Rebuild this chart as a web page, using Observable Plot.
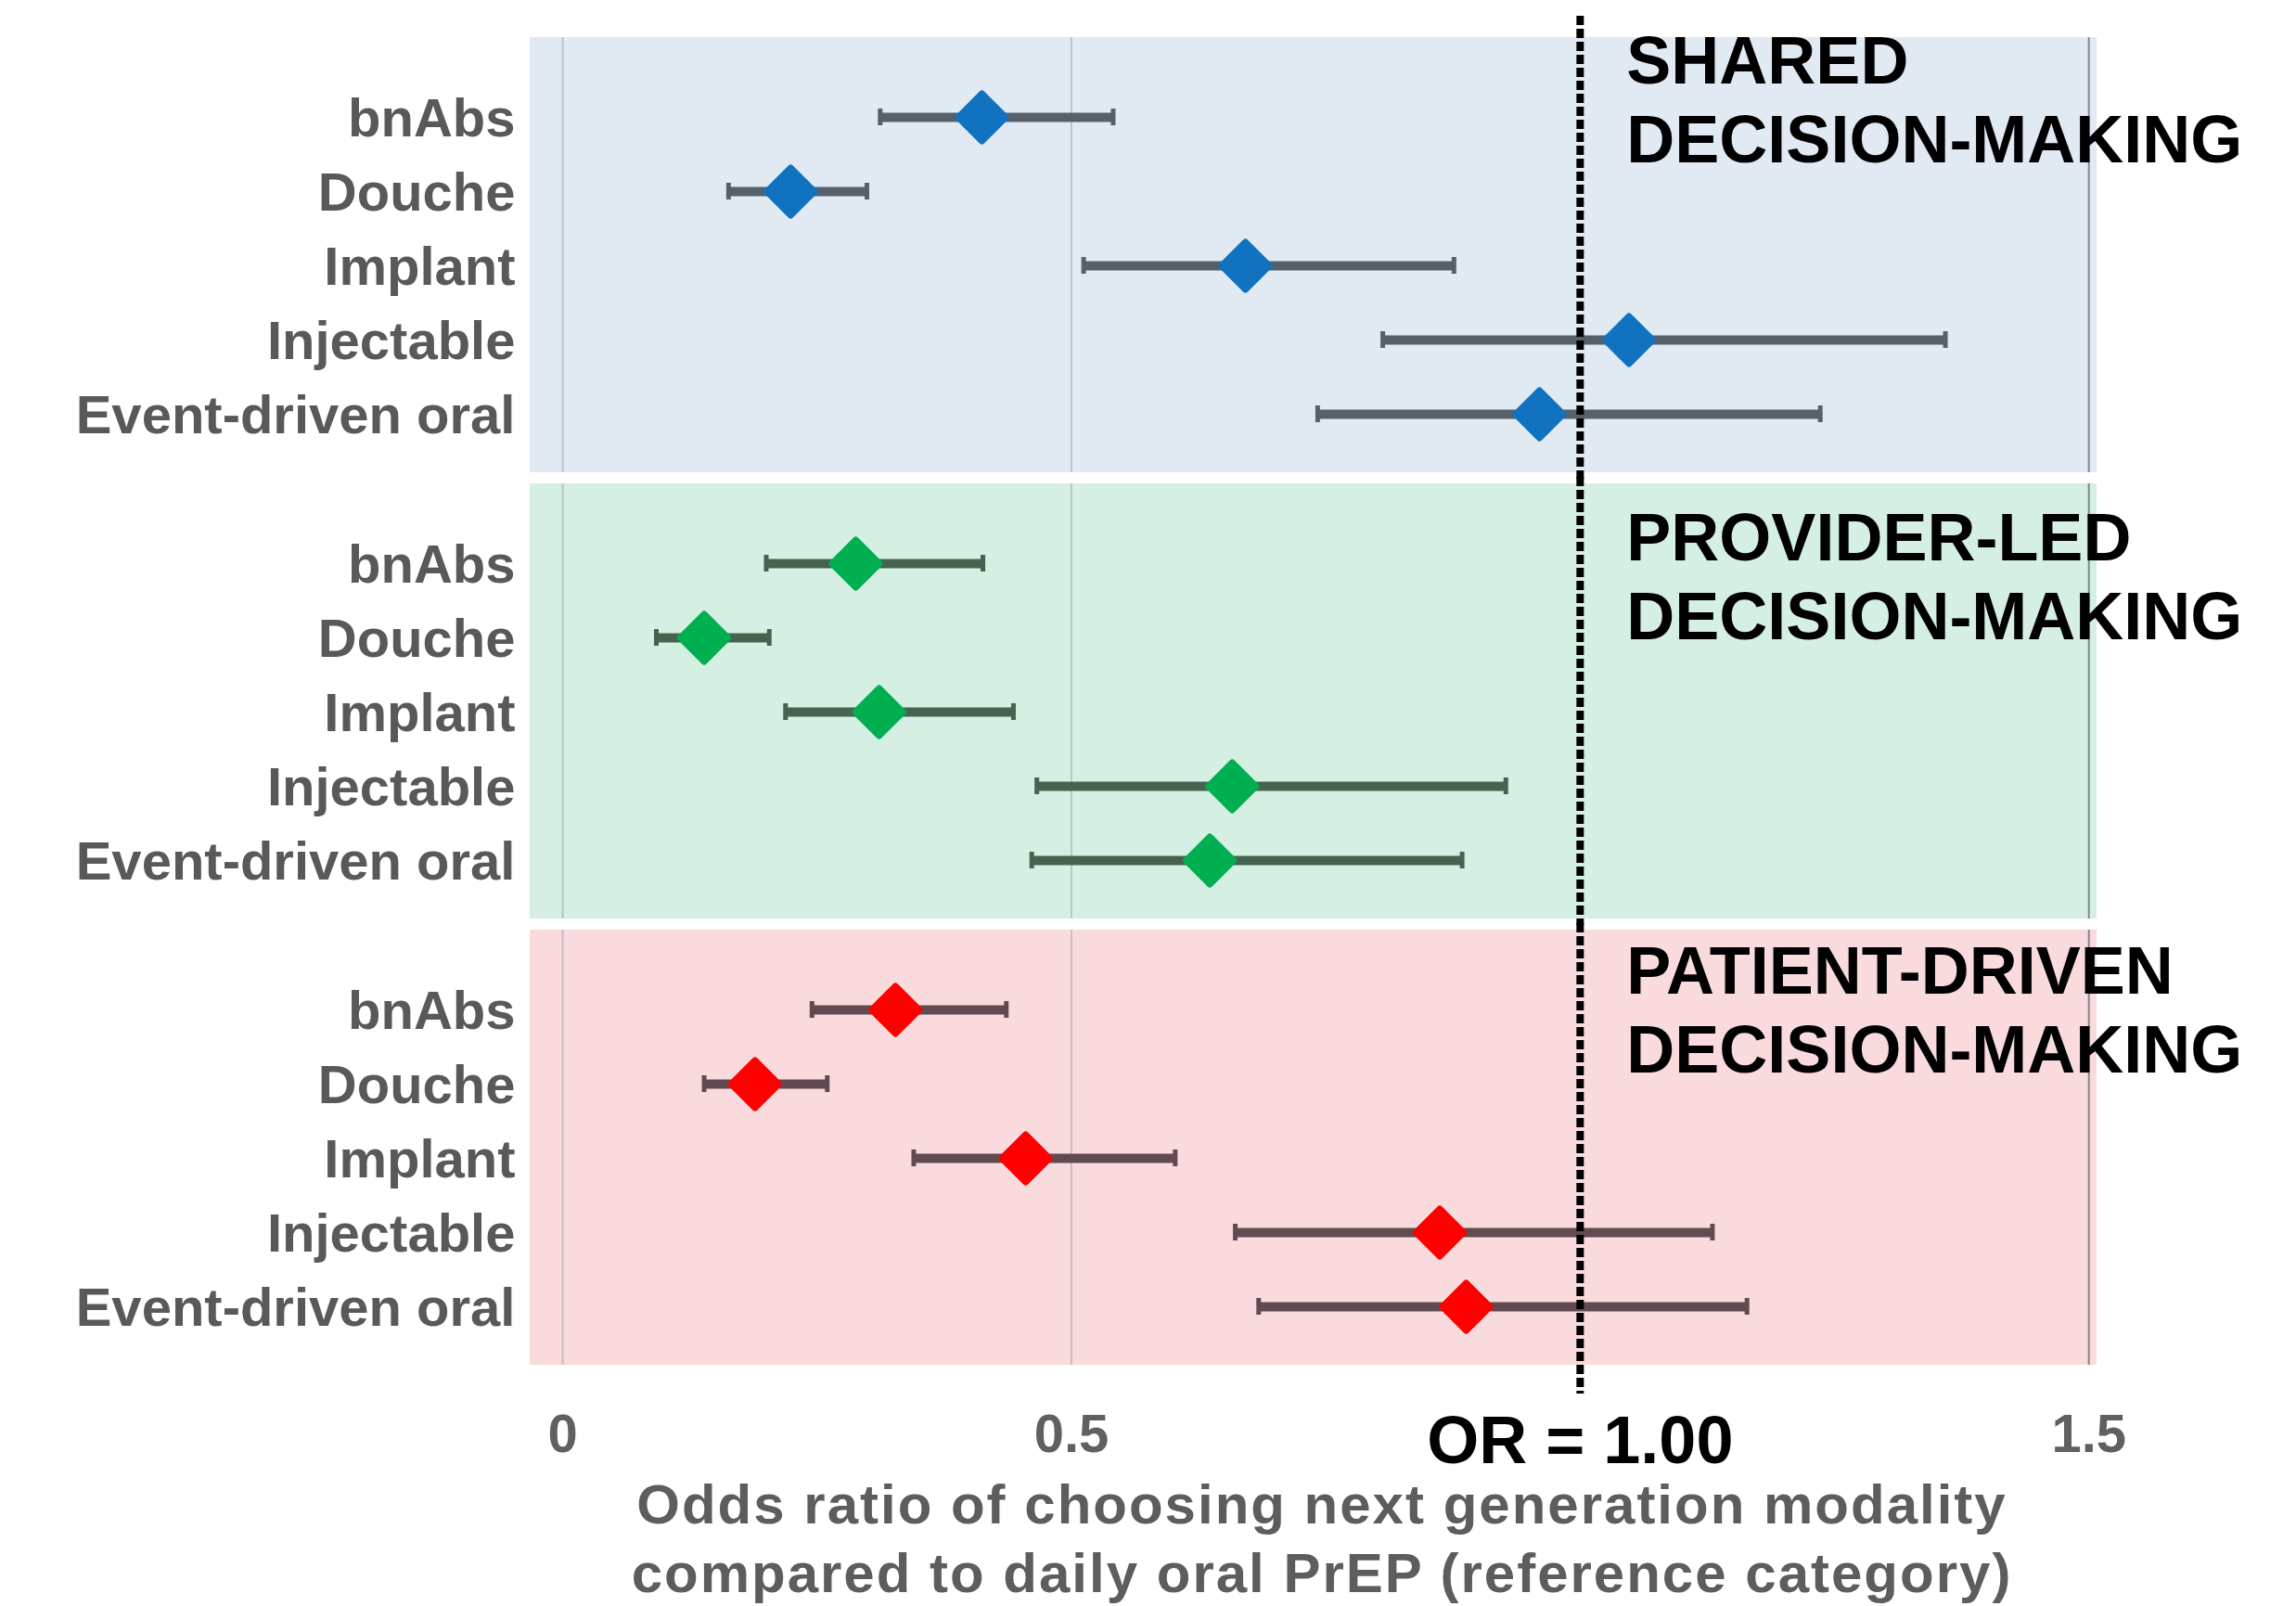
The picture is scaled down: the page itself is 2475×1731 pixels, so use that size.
<!DOCTYPE html>
<html>
<head>
<meta charset="utf-8">
<script src="https://cdn.jsdelivr.net/npm/d3@7"></script>
<script src="https://cdn.jsdelivr.net/npm/@observablehq/plot@0.6"></script>
<style>
  body { margin: 0; background: #ffffff; font-family: "Liberation Sans", Arial, sans-serif; }
  #chart svg { display: block; }
  .xtitle {
    width: 2475px; box-sizing: border-box; padding-left: 375px;
    text-align: center; font-weight: bold; font-size: 60px; line-height: 74px;
    letter-spacing: 2px; color: #5d5d5d;
  }
</style>
</head>
<body>
<div id="chart"></div>
<div class="xtitle">Odds ratio of choosing next generation modality<br>compared to daily oral PrEP (reference category)</div>
<script>
// ---- data ----
const groups = ["Shared", "Provider-led", "Patient-driven"];
const groupLabels = ["SHARED\nDECISION-MAKING", "PROVIDER-LED\nDECISION-MAKING", "PATIENT-DRIVEN\nDECISION-MAKING"];
const modalities = ["bnAbs", "Douche", "Implant", "Injectable", "Event-driven oral"];

const orShared   = [0.412, 0.224, 0.671, 1.048, 0.960];
const loShared   = [0.312, 0.163, 0.512, 0.806, 0.742];
const hiShared   = [0.541, 0.299, 0.876, 1.359, 1.236];

const orProvider = [0.288, 0.139, 0.311, 0.658, 0.636];
const loProvider = [0.200, 0.092, 0.219, 0.466, 0.461];
const hiProvider = [0.413, 0.203, 0.443, 0.927, 0.884];

const orPatient  = [0.327, 0.189, 0.455, 0.862, 0.888];
const loPatient  = [0.245, 0.139, 0.345, 0.661, 0.684];
const hiPatient  = [0.436, 0.260, 0.602, 1.130, 1.164];

const xTicks = [0, 0.5, 1.5];
const refOR = 1.00;
const refLabel = "OR = 1.00";

// ---- styles ----
const panelColors = ["#e1e9f3", "#d5f0e2", "#f9dadd"];
const pointColors = ["#1172c0", "#00b050", "#ff0000"];
const barColors   = ["#56606b", "#47624f", "#614b50"];
const labelDy     = [-11, 22, 8];

// ---- build tables ----
const orAll = [orShared, orProvider, orPatient];
const loAll = [loShared, loProvider, loPatient];
const hiAll = [hiShared, hiProvider, hiPatient];

const panels = groups.map((g, i) => ({group: g, label: groupLabels[i], bg: panelColors[i]}));
const rows = [];
groups.forEach((g, gi) => {
  modalities.forEach((m, mi) => {
    rows.push({group: g, modality: m, or: orAll[gi][mi], lo: loAll[gi][mi], hi: hiAll[gi][mi],
               color: pointColors[gi], bar: barColors[gi]});
  });
});

const font = "'Liberation Sans', Arial, sans-serif";
const dash = {stroke: "#000", strokeWidth: 8, strokeDasharray: "10,4"};

const groupText = (i) => Plot.text([panels[i]], {
  fy: "group", x: () => refOR, text: "label", frameAnchor: "top",
  lineAnchor: "top", textAnchor: "start", dx: 50, dy: labelDy[i],
  fontSize: 72, fontWeight: "bold", fill: "#000", lineHeight: 1.18
});

const chart = Plot.plot({
  width: 2475,
  height: 1585,
  marginLeft: 571,
  marginRight: 215,
  marginTop: 40,
  marginBottom: 114,
  style: {fontFamily: font, fontWeight: "bold", background: "#ffffff", overflow: "visible"},
  x: {domain: [-0.032, 1.508], label: null},
  y: {type: "band", domain: modalities, padding: 0, insetTop: 45, insetBottom: 23, label: null},
  fy: {domain: groups, padding: 0.025, axis: null, label: null},
  color: {type: "identity"},
  marks: [
    Plot.rect(panels, {fy: "group", fill: "bg"}),
    Plot.gridX(xTicks.slice(0, 2), {stroke: "#8e99a5", strokeOpacity: 0.45, strokeWidth: 2}),
    Plot.gridX(xTicks.slice(2), {stroke: "#6a7078", strokeOpacity: 0.8, strokeWidth: 2}),
    Plot.ruleY(rows, {fy: "group", y: "modality", x1: "lo", x2: "hi", stroke: "bar", strokeWidth: 10}),
    Plot.tickX(rows, {fy: "group", y: "modality", x: "lo", stroke: "bar", strokeWidth: 5, insetTop: 31, insetBottom: 31}),
    Plot.tickX(rows, {fy: "group", y: "modality", x: "hi", stroke: "bar", strokeWidth: 5, insetTop: 31, insetBottom: 31}),
    Plot.ruleX([panels[0]], {fy: "group", x: () => refOR, insetTop: -23, insetBottom: -7, ...dash}),
    Plot.ruleX([panels[1]], {fy: "group", x: () => refOR, insetTop: -7, insetBottom: -7, ...dash}),
    Plot.ruleX([panels[2]], {fy: "group", x: () => refOR, insetTop: -7, insetBottom: -31, ...dash}),
    Plot.dot(rows, {fy: "group", x: "or", y: "modality", symbol: "diamond2", r: 23,
                    fill: "color", stroke: "color", strokeWidth: 7, strokeLinejoin: "round"}),
    groupText(0), groupText(1), groupText(2),
    Plot.axisY({tickSize: 0, tickPadding: 16, fontSize: 58, fontWeight: "bold", fill: "#595959", dy: 2, label: null}),
    Plot.axisX(xTicks, {tickSize: 0, tickPadding: 52, fontSize: 58, fontWeight: "bold", fill: "#606060", label: null,
                        tickFormat: d3.format("~g")}),
    Plot.axisX([refOR], {tickSize: 0, tickPadding: 54, fontSize: 72, fontWeight: "bold", fill: "#000", label: null,
                         tickFormat: () => refLabel})
  ]
});
document.getElementById("chart").appendChild(chart);
</script>
</body>
</html>
